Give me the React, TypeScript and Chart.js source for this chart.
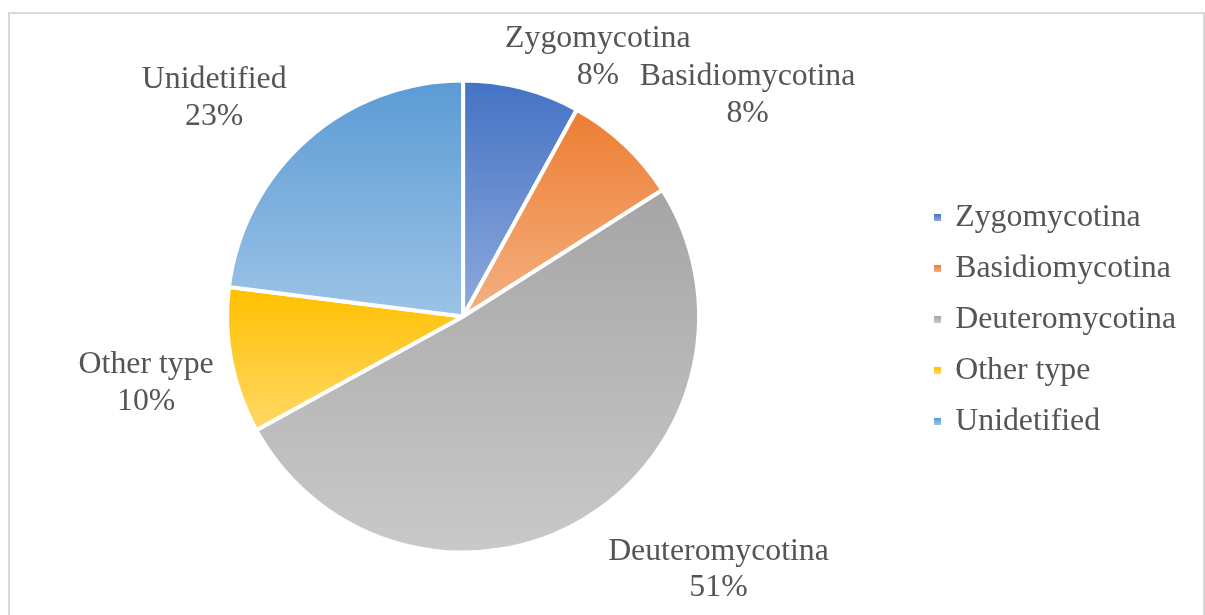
import { useEffect, useRef } from "react";
import { Chart, registerables } from "chart.js";

Chart.register(...registerables);

// ---- data ----
const categories = ["Zygomycotina", "Basidiomycotina", "Deuteromycotina", "Other type", "Unidetified"];
const shares = [8, 8, 51, 10, 23];

// ---- style ----
const baseColors = ["#4472C4", "#ED7D31", "#A5A5A5", "#FFC000", "#5B9BD5"];
const tintColors = ["#8FAADC", "#F4B183", "#C9C9C9", "#FFD966", "#9DC3E6"];
const FONT = "'Liberation Serif', 'Times New Roman', serif";
const FONT_SIZE = 31.8;
const TEXT = "#555555";
const RADIUS = 236;
const LINE_H = 36.5;
// per-label nudges (pixels) to mimic the spreadsheet's "best fit" label placement
const labelNudges = [
  [50, 14],
  [41, -16],
  [73, 6],
  [-7, 11],
  [-37, -7],
];

const total = shares.reduce((a, b) => a + b, 0);

function sliceGradient(chart: any, i: number) {
  const ca = chart.chartArea;
  if (!ca) return baseColors[i];
  const cx = (ca.left + ca.right) / 2;
  const cy = (ca.top + ca.bottom) / 2;
  let before = 0;
  for (let k = 0; k < i; k++) before += shares[k];
  const start = -Math.PI / 2 + (before / total) * Math.PI * 2;
  const end = start + (shares[i] / total) * Math.PI * 2;
  const ys = [cy, cy + RADIUS * Math.sin(start), cy + RADIUS * Math.sin(end)];
  for (const a of [-Math.PI / 2, Math.PI / 2, (3 * Math.PI) / 2, (5 * Math.PI) / 2]) {
    if (a >= start && a <= end) ys.push(cy + RADIUS * Math.sin(a));
  }
  const top = Math.min(...ys);
  const bottom = Math.max(...ys);
  const g = chart.ctx.createLinearGradient(0, top, 0, bottom);
  g.addColorStop(0, baseColors[i]);
  g.addColorStop(1, tintColors[i]);
  return g;
}

const swatches: HTMLCanvasElement[] = [];
function swatch(i: number) {
  if (swatches[i]) return swatches[i];
  const c = document.createElement("canvas");
  c.width = 7;
  c.height = 7;
  const x = c.getContext("2d")!;
  const g = x.createLinearGradient(0, 0, 0, 7);
  g.addColorStop(0, baseColors[i]);
  g.addColorStop(1, tintColors[i]);
  x.fillStyle = g;
  x.fillRect(0, 0, 7, 7);
  swatches[i] = c;
  return c;
}

const outsideLabels = {
  id: "outsideLabels",
  afterDatasetsDraw(chart: any) {
    const ctx = chart.ctx;
    const meta = chart.getDatasetMeta(0);
    ctx.save();
    ctx.font = `${FONT_SIZE}px ${FONT}`;
    ctx.fillStyle = TEXT;
    ctx.textAlign = "center";
    ctx.textBaseline = "alphabetic";
    meta.data.forEach((arc: any, i: number) => {
      const { x, y, startAngle, endAngle, outerRadius } = arc.getProps(
        ["x", "y", "startAngle", "endAngle", "outerRadius"],
        true
      );
      const mid = (startAngle + endAngle) / 2;
      const ux = Math.cos(mid);
      const uy = Math.sin(mid);
      const pct = Math.round((shares[i] / total) * 100) + "%";
      const lines = [categories[i], pct];
      const w = Math.max(...lines.map((l) => ctx.measureText(l).width));
      const h = lines.length * LINE_H;
      const ax = x + (outerRadius + 12) * ux;
      const ay = y + (outerRadius + 12) * uy;
      const cx = ax + (ux * w) / 2 + labelNudges[i][0];
      const cy = ay + (uy * h) / 2 + labelNudges[i][1];
      const top = cy - h / 2;
      lines.forEach((l, k) => {
        ctx.fillText(l, cx, top + LINE_H * k + LINE_H / 2 + FONT_SIZE * 0.33);
      });
    });
    ctx.restore();
  },
};

export default function App() {
  const ref = useRef<HTMLCanvasElement>(null);
  useEffect(() => {
    document.body.style.overflow = "hidden";
    const canvas = ref.current!;
    const chart = new Chart(canvas, {
      type: "pie",
      data: {
        labels: categories,
        datasets: [
          {
            data: shares,
            backgroundColor: (c: any) => sliceGradient(c.chart, c.dataIndex),
            borderColor: "#FFFFFF",
            borderWidth: 4,
          },
        ],
      },
      options: {
        responsive: false,
        animation: false,
        devicePixelRatio: 1,
        radius: RADIUS,
        layout: { padding: { left: -2, right: 17, top: 61, bottom: 60 } },
        plugins: {
          tooltip: { enabled: false },
          legend: {
            position: "right",
            title: { display: true, text: "", padding: 0, font: { size: 5, lineHeight: 1.2 } },
            labels: {
              usePointStyle: true,
              boxWidth: 4,
              boxHeight: 7,
              padding: 19.2,
              color: TEXT,
              font: { family: FONT, size: FONT_SIZE },
              generateLabels: (ch: any) => {
                const base = (Chart as any).overrides.doughnut.plugins.legend.labels.generateLabels(ch);
                return base.map((it: any, i: number) => ({
                  ...it,
                  pointStyle: swatch(i),
                  fontColor: TEXT,
                  lineWidth: 0,
                  strokeStyle: "rgba(0,0,0,0)",
                }));
              },
            },
          },
        },
      } as any,
      plugins: [outsideLabels],
    });
    return () => chart.destroy();
  }, []);

  return (
    <div
      style={{
        position: "fixed",
        left: 8,
        top: 12,
        width: 1197,
        height: 603,
        boxSizing: "border-box",
        borderTop: "2px solid #D9D9D9",
        borderLeft: "2px solid #D9D9D9",
        borderRight: "2px solid #D9D9D9",
        background: "#FFFFFF",
        overflow: "hidden",
      }}
    >
      <canvas ref={ref} width={1193} height={604} style={{ display: "block" }} />
    </div>
  );
}
